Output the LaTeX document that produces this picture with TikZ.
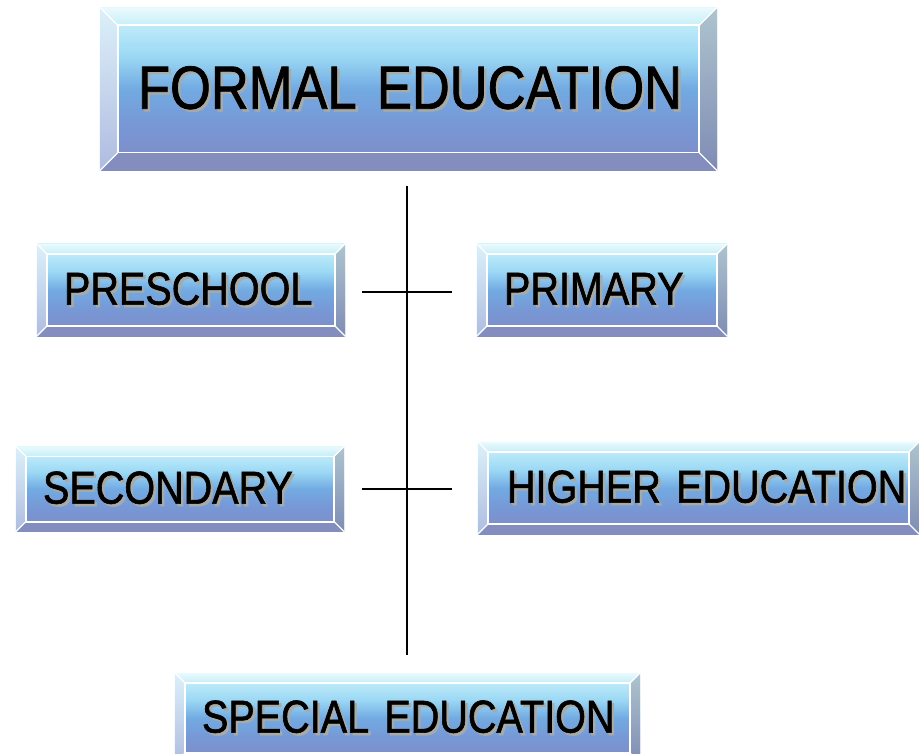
\documentclass[tikz,border=0pt]{standalone}
\usepackage{fontspec}
\usetikzlibrary{calc}
\newfontfamily\policeboite{Liberation Sans}[FakeStretch=0.86,FakeBold=1.3,WordSpace=0.7]

%couleurs des boites
\definecolor{facehaut}{RGB}{208,245,252}
\definecolor{faceclair}{RGB}{155,216,244}
\definecolor{facemilieu}{RGB}{114,170,226}
\definecolor{facebasb}{RGB}{120,150,212}
\definecolor{facebas}{RGB}{128,140,196}
\definecolor{bordhauta}{RGB}{234,250,253}
\definecolor{bordhautb}{RGB}{198,238,248}
\definecolor{bordgauchea}{RGB}{220,240,250}
\definecolor{bordgaucheb}{RGB}{174,188,224}
\definecolor{borddroita}{RGB}{174,196,206}
\definecolor{borddroitb}{RGB}{126,140,180}
\definecolor{bordbas}{RGB}{132,142,190}
\definecolor{ombre}{RGB}{170,170,165}

\pgfdeclareverticalshading{degradeface}{100bp}{color(0bp)=(facebas); color(25bp)=(facebas); color(38bp)=(facebasb); color(50bp)=(facemilieu); color(60bp)=(faceclair); color(75bp)=(facehaut); color(100bp)=(facehaut)}

\tikzstyle{boite}           =[shading=degradeface, inner sep=0pt, inner xsep=27pt, align=left, font=\policeboite\fontsize{46}{50}\selectfont]
\tikzstyle{trait}           =[line width=2pt, line cap=butt]

%texte avec son ombre
\newcommand{\ombrage}[1]{\mbox{\rlap{\hspace{2.5pt}\raisebox{-2.5pt}{\textcolor{ombre}{#1}}}#1}}

%biseau autour d'une boite : #1 nom du noeud, #2 largeur du biseau
\newcommand{\biseau}[2]{%
\coordinate (#1-a) at (#1.north west);
\coordinate (#1-b) at (#1.north east);
\coordinate (#1-c) at (#1.south east);
\coordinate (#1-d) at (#1.south west);
\coordinate (#1-e) at ($(#1.north west)+(#2,#2)$);
\coordinate (#1-f) at ($(#1.north east)+(-#2,#2)$);
\coordinate (#1-g) at ($(#1.south east)+(-#2,-#2)$);
\coordinate (#1-h) at ($(#1.south west)+(#2,-#2)$);
\shade[top color=bordhauta,bottom color=bordhautb] (#1-a)--(#1-b)--(#1-f)--(#1-e)--cycle;
\shade[top color=bordgauchea,bottom color=bordgaucheb] (#1-a)--(#1-e)--(#1-h)--(#1-d)--cycle;
\shade[top color=borddroita,bottom color=borddroitb] (#1-b)--(#1-c)--(#1-g)--(#1-f)--cycle;
\fill[bordbas] (#1-d)--(#1-h)--(#1-g)--(#1-c)--cycle;
\draw[white,line width=1.6pt] (#1-e) rectangle (#1-g);
\draw[white,line width=1.4pt] (#1-a)--(#1-e) (#1-b)--(#1-f) (#1-c)--(#1-g) (#1-d)--(#1-h);
}

\begin{document}
\begin{tikzpicture}[x=1pt,y=-1pt]
\useasboundingbox (0,0) rectangle (919,754);

%%%%%%%%%%%%%%%%%%%%%%%%
%les boites
%%%%%%%%%%%%%%%%%%%%%%%%
\node[boite,minimum width=617,minimum height=163,inner xsep=38pt,text width=541pt,font=\policeboite\fontsize{61}{64}\selectfont] (formelle) at (408.5,89) {\ombrage{FORMAL EDUCATION}};
\node[boite,minimum width=308,minimum height=92,text width=254pt] (prescolaire) at (191,290) {\ombrage{PRESCHOOL}};
\node[boite,minimum width=250,minimum height=92,text width=196pt] (primaire) at (602,290) {\ombrage{PRIMARY}};
\node[boite,minimum width=328,minimum height=85,text width=274pt] (secondaire) at (180,489) {\ombrage{SECONDARY}};
\node[boite,minimum width=441,minimum height=92,inner xsep=29pt,text width=383pt] (superieur) at (698.5,488) {\ombrage{HIGHER EDUCATION}};
\node[boite,minimum width=465,minimum height=90,text width=411pt] (specialisee) at (407.5,718) {\ombrage{SPECIAL EDUCATION}};

\biseau{formelle}{18}
\biseau{prescolaire}{10}
\biseau{primaire}{10}
\biseau{secondaire}{10}
\biseau{superieur}{10}
\biseau{specialisee}{10}

%%%%%%%%%%%%%%%%%%%%%%%%
%les traits
%%%%%%%%%%%%%%%%%%%%%%%%
\coordinate (tronchaut) at (407,186);
\coordinate (troncbas) at (407,655);
\coordinate (brancheA) at (362,292);
\coordinate (brancheB) at (452,292);
\coordinate (brancheC) at (362,489);
\coordinate (brancheD) at (452,489);

\draw[trait] (tronchaut)--(troncbas);
\draw[trait] (brancheA)--(brancheB);
\draw[trait] (brancheC)--(brancheD);

\end{tikzpicture}
\end{document}
